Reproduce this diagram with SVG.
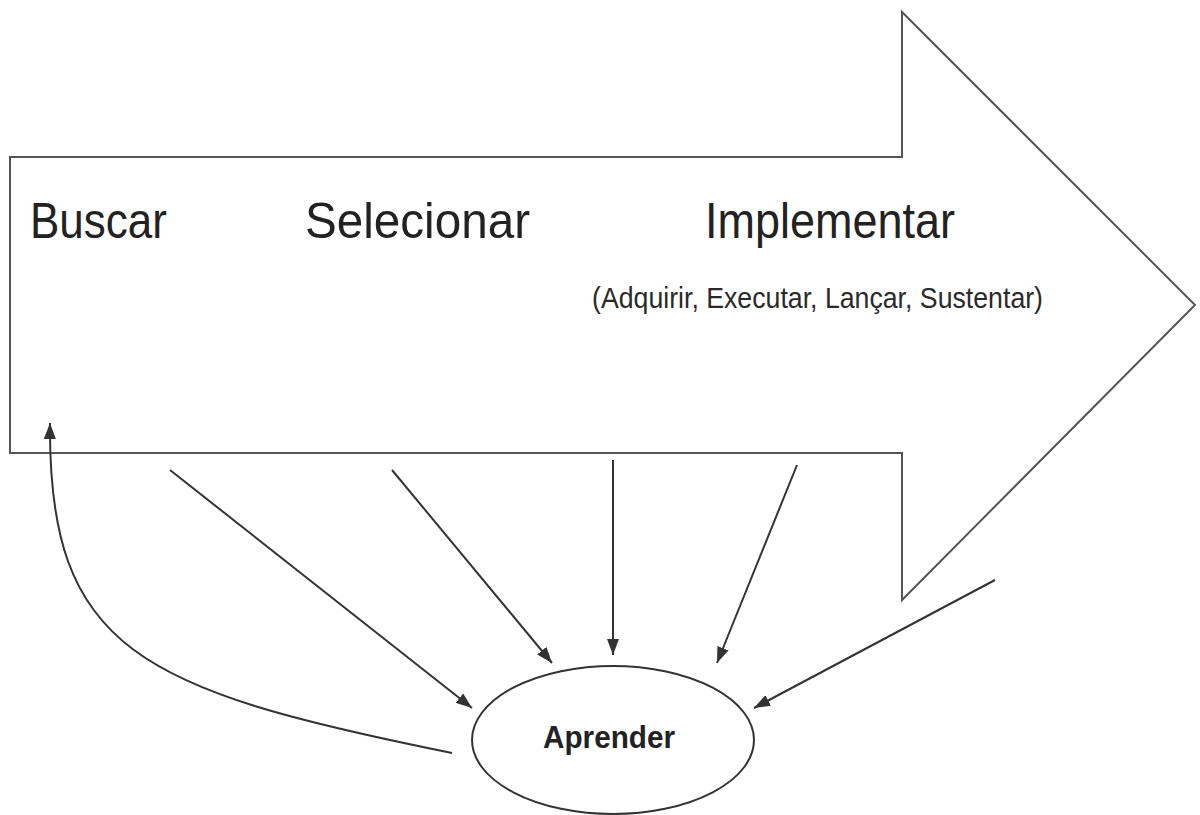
<svg xmlns="http://www.w3.org/2000/svg" width="1200" height="815" viewBox="0 0 1200 815">
  <style>
    .outline { fill: #ffffff; stroke: #555555; stroke-width: 2; stroke-linejoin: miter; }
    .conn { fill: none; stroke: #333333; stroke-width: 2; }
    .big { font-family: "Liberation Sans", Arial, sans-serif; font-size: 50px; fill: #222222; }
    .small { font-family: "Liberation Sans", Arial, sans-serif; font-size: 29px; fill: #2a2a2a; }
    .node { fill: #ffffff; stroke: #333333; stroke-width: 2; }
    .label { font-family: "Liberation Sans", Arial, sans-serif; font-size: 32px; font-weight: bold; fill: #222222; }
  </style>
  <defs>
    <marker id="head" viewBox="0 0 16 12" refX="16" refY="6" markerWidth="16" markerHeight="12" markerUnits="userSpaceOnUse" orient="auto">
      <path d="M0,0 L16,6 L0,12 Z" fill="#333333"/>
    </marker>
  </defs>

  <rect width="1200" height="815" fill="#ffffff"/>

  <!-- process arrow -->
  <g id="process">
    <path class="outline" d="M10,157 L902,157 L902,12 L1195,305 L902,600 L902,453 L10,453 Z"/>
    <text class="big" x="30" y="238" textLength="137" lengthAdjust="spacingAndGlyphs">Buscar</text>
    <text class="big" x="305" y="238" textLength="225" lengthAdjust="spacingAndGlyphs">Selecionar</text>
    <text class="big" x="705" y="238" textLength="250" lengthAdjust="spacingAndGlyphs">Implementar</text>
    <text class="small" x="592" y="308" textLength="451" lengthAdjust="spacingAndGlyphs">(Adquirir, Executar, Lançar, Sustentar)</text>
  </g>

  <!-- learning node -->
  <g id="aprender">
    <ellipse class="node" cx="613" cy="740" rx="141" ry="74"/>
    <text class="label" x="543" y="748" textLength="132" lengthAdjust="spacingAndGlyphs">Aprender</text>
  </g>

  <!-- connectors -->
  <g id="connectors">
    <path class="conn" marker-end="url(#head)" d="M452,753 C140,690 48,650 50,423"/>
    <line class="conn" marker-end="url(#head)" x1="170" y1="470" x2="472" y2="708"/>
    <line class="conn" marker-end="url(#head)" x1="392" y1="470" x2="552" y2="663"/>
    <line class="conn" marker-end="url(#head)" x1="613" y1="460" x2="613" y2="655"/>
    <line class="conn" marker-end="url(#head)" x1="797" y1="465" x2="717" y2="663"/>
    <line class="conn" marker-end="url(#head)" x1="995" y1="580" x2="754" y2="708"/>
  </g>
</svg>
